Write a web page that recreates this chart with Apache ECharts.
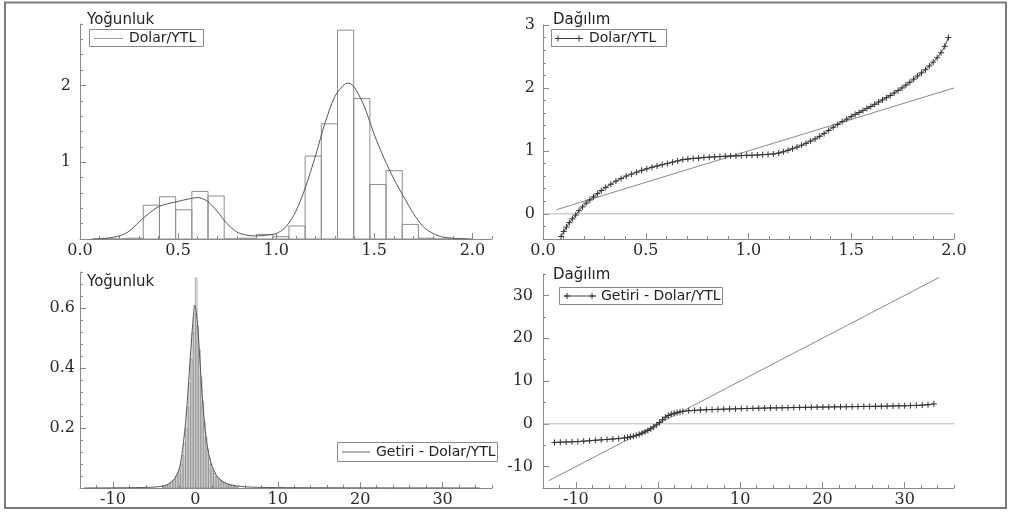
<!DOCTYPE html>
<html><head><meta charset="utf-8">
<script src="https://cdn.jsdelivr.net/npm/echarts@6/dist/echarts.min.js"></script>
<style>html,body{margin:0;padding:0;background:#fff}#c{width:1012px;height:519px}</style>
</head><body><div id="c"></div>
<script>
// ---------- DATA ----------
// Top-left: density of Dolar/YTL (histogram + kernel density)
const dolarHistLeft = [0.075,0.1575,0.24,0.3225,0.405,0.4875,0.57,0.6525,0.735,0.8175,0.90,0.9825,1.065,1.1475,1.23,1.3125,1.395,1.4775,1.56,1.6425,1.725,1.8075,1.89];
const dolarHistWidth = 0.0825;
const dolarHist = [0,0,0.01,0.44,0.55,0.38,0.62,0.56,0,0.01,0.06,0.03,0.17,1.08,1.50,2.72,1.83,0.71,0.89,0.19,0.01,0,0];
const dolarKdeX = [0.06,0.10,0.15,0.20,0.25,0.30,0.35,0.40,0.45,0.50,0.55,0.60,0.65,0.70,0.75,0.80,0.85,0.90,0.95,1.00,1.05,1.10,1.15,1.20,1.25,1.30,1.35,1.37,1.40,1.45,1.50,1.55,1.60,1.65,1.70,1.75,1.80,1.85,1.90,1.95,2.00];
const dolarKdeY = [0.0,0.003,0.015,0.04,0.10,0.22,0.33,0.42,0.46,0.49,0.52,0.54,0.49,0.36,0.20,0.09,0.05,0.04,0.05,0.07,0.16,0.36,0.68,1.08,1.52,1.86,2.02,2.03,1.97,1.72,1.36,1.05,0.78,0.55,0.33,0.16,0.07,0.025,0.01,0.003,0.0];

// Top-right: distribution (QQ) of Dolar/YTL
const qqDolarX = [0.088,0.101,0.114,0.128,0.143,0.159,0.175,0.192,0.210,0.228,0.246,0.265,0.284,
  0.305,0.330,0.355,0.380,0.405,0.430,0.455,0.480,0.505,0.530,0.555,0.580,0.605,0.630,0.655,0.680,0.705,
  0.731,0.757,0.783,0.809,0.835,0.861,0.887,0.913,0.939,0.965,0.991,1.017,1.043,1.069,1.095,1.121,1.147,
  1.170,1.192,1.214,1.236,1.258,1.280,1.302,1.324,1.346,1.368,1.390,1.412,1.434,1.456,1.478,1.500,
  1.519,1.538,1.557,1.576,1.595,1.614,1.633,1.652,1.671,1.690,1.709,1.728,1.747,1.766,1.785,1.804,1.823,1.842,1.861,1.880,1.899,1.918,1.937,1.955,1.973];
const qqDolarY = [-0.36,-0.28,-0.21,-0.14,-0.08,-0.02,0.05,0.11,0.17,0.22,0.27,0.32,0.37,
  0.42,0.47,0.52,0.56,0.60,0.63,0.66,0.69,0.715,0.74,0.76,0.78,0.80,0.82,0.84,0.86,0.87,
  0.88,0.885,0.895,0.90,0.905,0.91,0.915,0.92,0.92,0.925,0.93,0.93,0.935,0.94,0.945,0.95,0.965,
  0.985,1.01,1.035,1.06,1.09,1.12,1.155,1.19,1.23,1.275,1.325,1.375,1.42,1.465,1.505,1.545,
  1.58,1.61,1.64,1.675,1.705,1.74,1.775,1.81,1.845,1.88,1.92,1.96,2.00,2.045,2.09,2.14,2.19,2.24,2.29,2.35,2.41,2.48,2.56,2.66,2.80];
const qqDolarRef = [0.065, 2.0];

// Bottom-left: density of Getiri - Dolar/YTL
const getiriHistLeft = [-4.0,-3.8,-3.6,-3.4,-3.2,-3.0,-2.8,-2.6,-2.4,-2.2,-2.0,-1.8,-1.6,-1.4,-1.2,-1.0,-0.8,-0.6,-0.4,-0.2,0.0,0.2,0.4,0.6,0.8,1.0,1.2,1.4,1.6,1.8,2.0,2.2,2.4,2.6,2.8,3.0,3.2,3.4,3.6,3.8,4.0,4.2,4.4,4.6,4.8,5.0];
const getiriHistWidth = 0.2;
const getiriHist = [0.005,0.005,0.01,0.01,0.015,0.02,0.025,0.03,0.04,0.05,0.06,0.08,0.11,0.15,0.20,0.27,0.35,0.43,0.52,0.58,0.70,0.54,0.46,0.37,0.29,0.22,0.17,0.13,0.10,0.08,0.06,0.05,0.04,0.035,0.03,0.025,0.02,0.018,0.015,0.012,0.01,0.008,0.007,0.006,0.005,0.004];
const getiriKdeX = [-13.5,-8,-5,-4,-3.5,-3,-2.5,-2,-1.75,-1.5,-1.25,-1,-0.75,-0.5,-0.25,-0.08,0.1,0.25,0.5,0.75,1,1.25,1.5,1.75,2,2.5,3,3.5,4,5,6,8,12,20,34.5];
const getiriKdeY = [0,0.001,0.003,0.006,0.01,0.018,0.032,0.06,0.09,0.14,0.20,0.28,0.38,0.48,0.57,0.61,0.59,0.55,0.45,0.34,0.25,0.18,0.13,0.10,0.075,0.045,0.028,0.019,0.013,0.007,0.004,0.002,0.001,0.0005,0];

// Bottom-right: distribution (QQ) of Getiri - Dolar/YTL
const qqGetiriX = [-12.60,-11.89,-11.18,-10.47,-9.76,-9.05,-8.34,-7.63,-6.92,-6.21,-5.50,-4.79,-4.08,-3.72,-3.37,-3.01,-2.66,-2.30,-1.95,-1.59,-1.24,-0.88,-0.53,-0.17,0.18,0.54,0.89,1.25,1.60,1.96,2.31,2.67,3.02,3.73,4.44,5.15,5.86,6.57,7.28,7.99,8.70,9.41,10.12,10.83,11.54,12.25,12.96,13.67,14.38,15.09,15.80,16.51,17.22,17.93,18.64,19.35,20.06,20.77,21.48,22.19,22.90,23.61,24.32,25.03,25.74,26.45,27.16,27.87,28.58,29.29,30.00,30.71,31.42,32.13,32.84,33.55];
const qqGetiriY = [-4.35,-4.30,-4.25,-4.20,-4.15,-4.05,-3.95,-3.85,-3.75,-3.65,-3.55,-3.45,-3.30,-3.18,-3.05,-2.90,-2.70,-2.47,-2.20,-1.90,-1.55,-1.17,-0.75,-0.25,0.30,0.95,1.55,1.95,2.25,2.47,2.65,2.79,2.90,3.05,3.15,3.22,3.28,3.33,3.38,3.42,3.46,3.50,3.54,3.57,3.61,3.64,3.67,3.70,3.72,3.75,3.77,3.80,3.82,3.85,3.87,3.89,3.91,3.93,3.95,3.97,3.99,4.01,4.03,4.05,4.07,4.09,4.11,4.13,4.16,4.19,4.22,4.26,4.30,4.36,4.45,4.65];
const qqGetiriRef = [-13.3, 34.2];

// Tick labels
const tlXTicks = [0, 0.5, 1.0, 1.5, 2.0];
const tlYTicks = [1, 2];
const trXTicks = [0, 0.5, 1.0, 1.5, 2.0];
const trYTicks = [0, 1, 2, 3];
const blXTicks = [-10, 0, 10, 20, 30];
const blYTicks = [0.2, 0.4, 0.6];
const brXTicks = [-10, 0, 10, 20, 30];
const brYTicks = [-10, 0, 10, 20, 30];

const titleDens = 'Yoğunluk';
const titleDist = 'Dağılım';
const nameDolar = 'Dolar/YTL';
const nameGetiri = 'Getiri - Dolar/YTL';

// ---------- CHART ----------
const AX = '#8a8a8a';
const LBL = {color:'#2a2a2a', fontFamily:'DejaVu Serif', fontSize:16};
const PLUS = 'path://M0,5L10,5M5,0L5,10';

function axisPair(kind, grid, min, max, minor, majors, fmt, margin) {
  const base = {type:'value', gridIndex:grid, min:min, max:max, position: kind==='x'?'bottom':'left', offset:0, splitLine:{show:false}, splitArea:{show:false}};
  return [
    Object.assign({}, base, {interval:minor,
      axisLine:{show:true,onZero:false,lineStyle:{color:AX,width:1}},
      axisTick:{show:true,inside:true,length:3,lineStyle:{color:AX}},
      axisLabel:{show:false}}),
    Object.assign({}, base, {interval:minor,
      axisLine:{show:false,onZero:false},
      axisTick:{show:true,inside:true,length:6,customValues:majors,lineStyle:{color:AX}},
      axisLabel:Object.assign({show:true,customValues:majors,formatter:fmt,margin:margin}, LBL)})
  ];
}
const f1 = v => (+v).toFixed(1);
const f0 = v => String(Math.round(v));

const xAxis = [].concat(
  axisPair('x',0,0,2.1,0.1,tlXTicks,f1,4),
  axisPair('x',1,0,2.0,0.1,trXTicks,f1,4),
  axisPair('x',2,-14,36,2,blXTicks,f0,4),
  axisPair('x',3,-14,36,2,brXTicks,f0,4)
);
const yAxis = [].concat(
  axisPair('y',0,0,2.8,0.2,tlYTicks,f0,9),
  axisPair('y',1,-0.4,3.0,0.2,trYTicks,f0,8),
  axisPair('y',2,0,0.72,0.04,blYTicks,f1,5),
  axisPair('y',3,-15,35,5,brYTicks,f0,10)
);

function histSeries(ai, lefts, width, heights, color, lw) {
  return {
    type:'custom', xAxisIndex:ai, yAxisIndex:ai, silent:true, z:2,
    data: lefts.map((l,i)=>[l, l+width, heights[i]]),
    encode:{x:[0,1], y:2},
    renderItem:(params, api) => {
      const p0 = api.coord([api.value(0), 0]);
      const p1 = api.coord([api.value(1), api.value(2)]);
      return {type:'rect', shape:{x:p0[0], y:p1[1], width:p1[0]-p0[0], height:p0[1]-p1[1]},
        style:{fill:'none', stroke:color, lineWidth:lw}};
    }
  };
}
function curve(ai, xs, ys, color, smooth) {
  return {type:'line', xAxisIndex:ai, yAxisIndex:ai, data: xs.map((x,i)=>[x, ys[i]]),
    showSymbol:false, smooth:smooth, silent:true, z:3, lineStyle:{color:color, width:1}};
}
function qq(ai, xs, ys) {
  return {type:'line', xAxisIndex:ai, yAxisIndex:ai, data: xs.map((x,i)=>[x, ys[i]]),
    symbol:PLUS, symbolSize:6, showSymbol:true, silent:true, z:4,
    itemStyle:{color:'#333', borderColor:'#333', borderWidth:1},
    lineStyle:{color:'#444', width:1}};
}
function seg(ai, a, b, color) {
  return {type:'line', xAxisIndex:ai, yAxisIndex:ai, data:[a,b], showSymbol:false, silent:true, z:2,
    lineStyle:{color:color, width:1}};
}

const series = [
  histSeries(0, dolarHistLeft, dolarHistWidth, dolarHist, '#8c8c8c', 1),
  curve(0, dolarKdeX, dolarKdeY, '#555', 0.3),
  seg(2, [0,0], [2.0,0], '#b5b5b5'),
  seg(2, [qqDolarRef[0],qqDolarRef[0]], [qqDolarRef[1],qqDolarRef[1]], '#8a8a8a'),
  qq(2, qqDolarX, qqDolarY),
  histSeries(4, getiriHistLeft, getiriHistWidth, getiriHist, '#8a8a8a', 0.7),
  curve(4, getiriKdeX, getiriKdeY, '#555', 0.3),
  seg(6, [-14,0], [36,0], '#b5b5b5'),
  seg(6, [qqGetiriRef[0],qqGetiriRef[0]], [qqGetiriRef[1],qqGetiriRef[1]], '#8a8a8a'),
  qq(6, qqGetiriX, qqGetiriY)
];

const SANS = 'DejaVu Sans';
function text(x,y,s,size){return {type:'text', x:x, y:y, z:100, style:{text:s, fontFamily:SANS, fontSize:size, fill:'#222', verticalAlign:'middle'}};}
function ln(x1,y1,x2,y2,c){return {type:'line', z:100, shape:{x1:x1,y1:y1,x2:x2,y2:y2}, style:{stroke:c, lineWidth:1}};}
function box(x,y,w,h){return {type:'rect', z:99, shape:{x:x,y:y,width:w,height:h}, style:{fill:'#fff', stroke:'#8a8a8a', lineWidth:1}};}
function plus(x,y){return [ln(x-3,y,x+3,y,'#333'), ln(x,y-3,x,y+3,'#333')];}

const graphic = [
  {type:'rect', z:0, shape:{x:5, y:2.5, width:1001, height:505.5}, style:{fill:'none', stroke:'#7a7a7a', lineWidth:2}},
  text(87, 20, titleDens, 15),
  text(553, 20, titleDist, 15),
  text(87, 282, titleDens, 15),
  text(553, 275, titleDist, 15),
  box(89.5, 29.5, 114, 17), ln(94, 38.5, 123, 38.5, '#999'), text(129, 38.5, nameDolar, 14),
  box(551.5, 29.5, 115, 17), ln(555, 38.5, 583, 38.5, '#444'), ...plus(558, 38.5), ...plus(579, 38.5), text(589, 38.5, nameDolar, 14),
  box(337.5, 442.5, 160, 19), ln(342, 452, 370, 452, '#666'), text(376, 452, nameGetiri, 14),
  box(559.5, 287.5, 163, 17), ln(564, 296, 596, 296, '#444'), ...plus(567, 296), ...plus(592, 296), text(601, 296, nameGetiri, 14)
];

const chart = echarts.init(document.getElementById('c'), null, {renderer:'canvas'});
chart.setOption({
  animation:false,
  backgroundColor:'#fff',
  grid:[
    {left:80, top:24, width:412, height:215},
    {left:543, top:25, width:411, height:214},
    {left:80, top:272, width:412, height:216},
    {left:543, top:274, width:411, height:214}
  ],
  xAxis:xAxis, yAxis:yAxis, series:series, graphic:graphic
});
</script></body></html>
